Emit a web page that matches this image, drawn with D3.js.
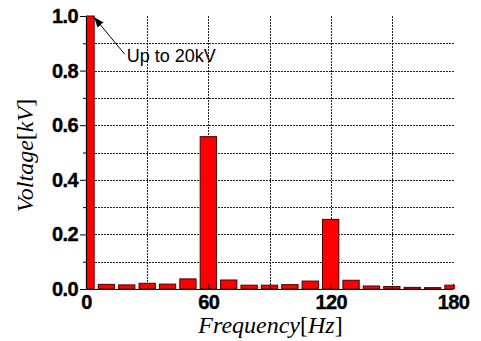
<!DOCTYPE html>
<html>
<head>
<meta charset="utf-8">
<script src="https://cdn.jsdelivr.net/npm/d3@7"></script>
<style>
  body { margin: 0; background: #fff; }
  svg { display: block; }
  .tick text { font-family: "Liberation Sans", Arial, sans-serif; font-weight: bold; font-size: 20px; fill: #000; stroke: #000; stroke-width: 0.4px; letter-spacing: -0.6px; }
  .title { font-family: "Liberation Serif", "Times New Roman", serif; font-size: 24px; fill: #000; }
</style>
</head>
<body>
<svg id="chart"></svg>
<script>
// spectrum data
const freqs = [0, 10, 20, 30, 40, 50, 60, 70, 80, 90, 100, 110, 120, 130, 140, 150, 160, 170, 180];
const volts = [1.0, 0.017, 0.015, 0.021, 0.018, 0.037, 0.558, 0.033, 0.014, 0.014, 0.016, 0.029, 0.255, 0.032, 0.011, 0.009, 0.006, 0.005, 0.014];

const yMajor = [0, 0.2, 0.4, 0.6, 0.8, 1.0];
const yMinor = [0.1, 0.3, 0.5, 0.7, 0.9];
const xMajor = [0, 60, 120, 180];
const xMinor = [30, 90, 150];
const hGrid = [0.1, 0.2, 0.3, 0.4, 0.5, 0.6, 0.7, 0.8, 0.9];
const vGrid = [30, 60, 90, 120, 150];

const noteText = 'Up to 20kV';
const noteFreq = [19, 4];     // arrow tail -> head
const noteVolt = [0.86, 0.995];

const W = 481, H = 341;
const margin = { top: 16, right: 28, bottom: 52, left: 86 };

const svg = d3.select('#chart').attr('width', W).attr('height', H);

const x = d3.scaleLinear().domain([0, 180]).range([margin.left, W - margin.right]);
const y = d3.scaleLinear().domain([0, 1]).range([H - margin.bottom, margin.top]);
const barW = x(8) - x(0);

svg.append('defs').append('clipPath').attr('id', 'plot')
  .append('rect')
  .attr('x', x(0)).attr('y', y(1) - 1)
  .attr('width', x(180) - x(0) + 2).attr('height', y(0) - y(1) + 1);

svg.append('defs').append('marker')
  .attr('id', 'arr').attr('viewBox', '0 0 10 10')
  .attr('refX', 10).attr('refY', 5)
  .attr('markerWidth', 10).attr('markerHeight', 10)
  .attr('markerUnits', 'userSpaceOnUse')
  .attr('orient', 'auto')
  .append('path').attr('d', 'M0,1 L10,5 L0,9 Z').attr('fill', '#000');

// grid
const grid = svg.append('g').attr('class', 'grid');
grid.selectAll('line.h').data(hGrid).join('line')
  .attr('class', 'h')
  .attr('x1', x(0)).attr('x2', x(180) + 1)
  .attr('y1', d => Math.round(y(d)) + 0.5).attr('y2', d => Math.round(y(d)) + 0.5)
  .attr('stroke', '#222').attr('stroke-dasharray', '2,1');
grid.selectAll('line.v').data(vGrid).join('line')
  .attr('class', 'v')
  .attr('y1', y(1)).attr('y2', y(0))
  .attr('x1', d => Math.round(x(d)) + 0.5).attr('x2', d => Math.round(x(d)) + 0.5)
  .attr('stroke', '#222').attr('stroke-dasharray', '2,1');

// bars
svg.append('g').attr('clip-path', 'url(#plot)')
  .selectAll('rect').data(freqs).join('rect')
  .attr('x', (d) => x(d) - barW / 2)
  .attr('width', barW)
  .attr('y', (d, i) => y(volts[i]))
  .attr('height', (d, i) => y(0) - y(volts[i]))
  .attr('fill', '#ff0000')
  .attr('stroke', '#4a0000')
  .attr('stroke-width', 1);

// axes
svg.append('g')
  .attr('transform', 'translate(' + x(0) + ',0)')
  .call(d3.axisLeft(y).tickValues(yMajor).tickFormat(d3.format('.1f')).tickSizeInner(6).tickSizeOuter(0).tickPadding(2));
svg.append('g')
  .attr('transform', 'translate(' + x(0) + ',0)')
  .call(d3.axisLeft(y).tickValues(yMinor).tickFormat('').tickSizeInner(3).tickSizeOuter(0))
  .select('.domain').remove();

svg.append('g')
  .attr('transform', 'translate(0,' + y(0) + ')')
  .call(d3.axisBottom(x).tickValues(xMajor).tickFormat(d3.format('d')).tickSizeInner(-5).tickSizeOuter(0).tickPadding(6));
svg.append('g')
  .attr('transform', 'translate(0,' + y(0) + ')')
  .call(d3.axisBottom(x).tickValues(xMinor).tickFormat('').tickSizeInner(-3).tickSizeOuter(0))
  .select('.domain').remove();

svg.selectAll('.domain').attr('stroke', '#000').attr('stroke-width', 1.2);
svg.selectAll('.tick line').attr('stroke', '#000');

// annotation
svg.append('line')
  .attr('x1', x(noteFreq[0])).attr('y1', y(noteVolt[0]))
  .attr('x2', x(noteFreq[1])).attr('y2', y(noteVolt[1]))
  .attr('stroke', '#000').attr('stroke-width', 1)
  .attr('marker-end', 'url(#arr)');
svg.append('text')
  .attr('x', x(20)).attr('y', y(0.83))
  .attr('font-family', '"Liberation Sans", Arial, sans-serif')
  .attr('font-size', 18)
  .text(noteText);

// axis titles
const yt = svg.append('text').attr('class', 'title')
  .attr('transform', 'translate(33,' + (y(0.5) + 3) + ') rotate(-90)')
  .attr('text-anchor', 'middle');
yt.append('tspan').attr('font-style', 'italic').text('Voltage');
yt.append('tspan').text('[');
yt.append('tspan').attr('font-style', 'italic').text('kV');
yt.append('tspan').text(']');

const xt = svg.append('text').attr('class', 'title')
  .attr('x', x(90) + 1).attr('y', 333)
  .attr('text-anchor', 'middle');
xt.append('tspan').attr('font-style', 'italic').text('Frequency');
xt.append('tspan').text('[');
xt.append('tspan').attr('font-style', 'italic').text('Hz');
xt.append('tspan').text(']');
</script>
</body>
</html>
